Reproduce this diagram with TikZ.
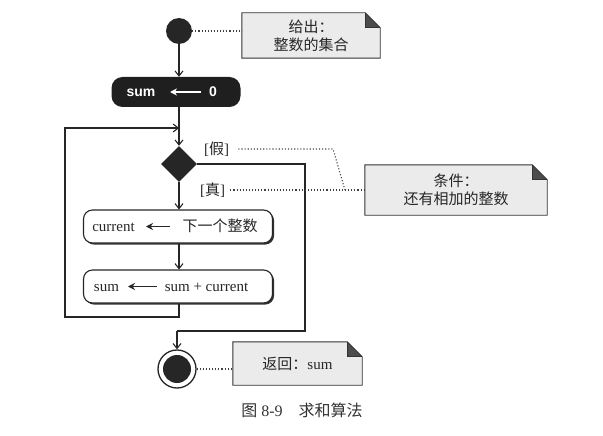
\documentclass[tikz,border=0pt]{standalone}
\usepackage{fontspec}
\setmainfont{Liberation Serif}
\setsansfont{Liberation Sans}
\newfontfamily\cjk{Noto Sans CJK SC}
\usetikzlibrary{arrows.meta,shapes.geometric,shadows}
\newcommand\notenode[6]{%
  \node[notetext, minimum width=#3, minimum height=#4] (#1) at (#2) {#5};
  \fill[notefill] (#1.south west) -- (#1.north west) -- ([xshift=-#6]#1.north east) -- ([yshift=-#6]#1.north east) -- (#1.south east) -- cycle;
  \fill[black!70] ([xshift=-#6]#1.north east) -- ([yshift=-#6]#1.north east) -- ([xshift=-#6,yshift=-#6]#1.north east) -- cycle;
  \draw[noteline] (#1.south west) -- (#1.north west) -- ([xshift=-#6]#1.north east) -- ([yshift=-#6]#1.north east) -- (#1.south east) -- cycle;
  \draw[noteline] ([xshift=-#6]#1.north east) -- ([xshift=-#6,yshift=-#6]#1.north east) -- ([yshift=-#6]#1.north east);
  \node[notetext, minimum width=#3, minimum height=#4] at (#2) {#5};
}
\begin{document}
\begin{tikzpicture}[x=1pt,y=-1pt,
  flow/.style={line width=1.1pt, draw=black!85},
  arr/.style={flow,-{Straight Barb[length=5pt,width=8pt,line width=1.1pt]}},
  tarr/.style={line width=1.7pt, draw=black!85, -{Stealth[length=7pt,width=7pt]}},
  dots/.style={dotted, line width=1.1pt, draw=black!75},
  notetext/.style={align=center, font=\fontsize{15}{18}\selectfont, inner sep=0pt, text=black!85},
  notefill/.style={fill=black!8},
  noteline/.style={line width=0.9pt, draw=black!80},
  act/.style={rectangle, rounded corners=9pt, draw=black!85, line width=1.1pt, fill=white,
    minimum width=189pt, minimum height=33pt,
    drop shadow={shadow xshift=1.6pt, shadow yshift=-1.6pt, fill=black!80, opacity=1}},
  txt/.style={font=\fontsize{15}{18}\selectfont, inner sep=0pt, text=black!85, anchor=base},
  wtxt/.style={font=\sffamily\bfseries\fontsize{14}{16}\selectfont, inner sep=0pt, text=white, anchor=base},
  lbl/.style={font=\fontsize{15}{18}\selectfont, inner sep=1pt, text=black!85}
]
\useasboundingbox (0,0) rectangle (603,436);
% start
\node[circle, fill=black!85, minimum size=26pt, inner sep=0pt] (start) at (179,31) {};
\notenode{n1}{311,35.5}{138pt}{45pt}{{\cjk 给出：}\\{\cjk 整数的集合}}{15pt}
\draw[dots] (start.east) -- (start.east -| n1.west);
% init
\node[rectangle, rounded corners=11pt, fill=black!88, minimum width=129pt, minimum height=30pt] (init) at (176,92) {};
\node[wtxt] (i1) at (141,97) {sum};
\node[wtxt] (i2) at (213,97) {0};
\coordinate (ia1) at (201,92);
\coordinate (ia2) at (170,92);
\draw[tarr, draw=white] (ia1) -- (ia2);
\draw[arr] (start) -- (init.north -| start);
% decision
\coordinate (merge) at (179,128);
\node[diamond, fill=black!85, minimum width=36pt, minimum height=36pt, inner sep=0pt] (dec) at (179,164) {};
\draw[arr] (init.south -| dec) -- (dec.north);
\node[lbl, anchor=west] (lf) at (203,149) {[{\cjk 假}]};
\node[lbl, anchor=west] (lt) at (199,190) {[{\cjk 真}]};
% actions
\node[act] (cur) at (178,226.5) {};
\node[txt] (c1) at (113.5,231.5) {current};
\node[txt] (c2) at (220,231.5) {\cjk 下一个整数};
\coordinate (ca1) at (170,226.5);
\coordinate (ca2) at (146,226.5);
\draw[tarr] (ca1) -- (ca2);
\node[act] (add) at (178,286.5) {};
\node[txt] (s1) at (106.5,291.5) {sum};
\node[txt] (s2) at (206.5,291.5) {sum + current};
\coordinate (sa1) at (157,286.5);
\coordinate (sa2) at (128,286.5);
\draw[tarr] (sa1) -- (sa2);
\draw[arr] (dec.south) -- (cur.north -| dec);
\draw[arr] (cur.south -| dec) -- (add.north -| dec);
% loop back
\coordinate (lp1) at (65,317);
\coordinate (lp2) at (65,128);
\draw[arr] (add.south -| dec) -- (lp1 -| dec) -- (lp1) -- (lp2) -- (merge);
% exit
\coordinate (rr1) at (305,164);
\coordinate (rr2) at (305,331);
\coordinate (rr3) at (177,331);
\node[circle, draw=black!85, line width=1.3pt, fill=white, minimum size=38pt, inner sep=0pt] (end) at (177,369) {};
\node[circle, fill=black!85, minimum size=28pt, inner sep=0pt] (endin) at (end.center) {};
\draw[flow] (dec.east) -- (rr1) -- (rr2) -- (rr3);
\draw[arr] (rr3) -- (end.north);
\notenode{n3}{297.5,363.5}{129pt}{43pt}{{\cjk 返回：}sum}{15pt}
\draw[dots] (end.east) -- (end.east -| n3.west);
% condition note
\notenode{n2}{456,190}{182pt}{50pt}{{\cjk 条件：}\\{\cjk 还有相加的整数}}{15pt}
\coordinate (d1) at (333,149);
\coordinate (d2) at (345,190);
\draw[dots] (lf.east) ++(8,0) -- (d1) -- (d2);
\draw[dots] (lt.east) ++(4,0) -- (n2.west);
% caption
\node[font=\fontsize{16}{18}\selectfont, text=black!80] (cap) at (302,410) {{\cjk 图} 8-9\quad{\cjk 求和算法}};
\end{tikzpicture}
\end{document}
